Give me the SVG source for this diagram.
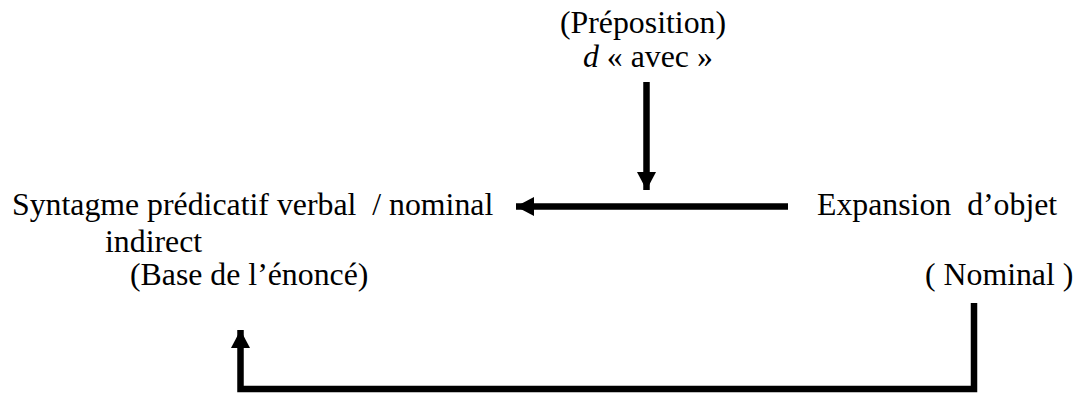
<svg xmlns="http://www.w3.org/2000/svg" width="1077" height="394" viewBox="0 0 1077 394">
<style>
text{font-family:"Liberation Serif","Times New Roman",serif;font-size:31.8px;fill:#000;white-space:pre}
.c{fill:none;stroke:#000;stroke-width:6.5}
</style>
<defs>
<marker id="ah" viewBox="0 0 18 19" refX="18" refY="9.5" markerWidth="18" markerHeight="19" orient="auto" markerUnits="userSpaceOnUse">
<path d="M0,0 L18,9.5 L0,19 Z" fill="#000"/>
</marker>
</defs>
<rect width="1077" height="394" fill="#fff"/>
<g id="preposition">
<text x="560" y="33">(Préposition)</text>
<text x="583" y="67"><tspan font-style="italic">d</tspan> « avec »</text>
</g>
<g id="syntagme">
<text x="12" y="215" xml:space="preserve">Syntagme prédicatif verbal  / nominal</text>
<text x="105" y="252">indirect</text>
<text x="130" y="285">(Base de l’énoncé)</text>
</g>
<g id="expansion">
<text x="817" y="215" xml:space="preserve">Expansion  d’objet</text>
<text x="925" y="285">( Nominal )</text>
</g>
<g id="connectors">
<line class="c" x1="646.5" y1="82" x2="646.5" y2="190" marker-end="url(#ah)"/>
<line class="c" x1="788" y1="206.5" x2="516" y2="206.5" marker-end="url(#ah)"/>
<polyline class="c" points="974,303 974,389 240.5,389 240.5,330" marker-end="url(#ah)"/>
</g>
</svg>
